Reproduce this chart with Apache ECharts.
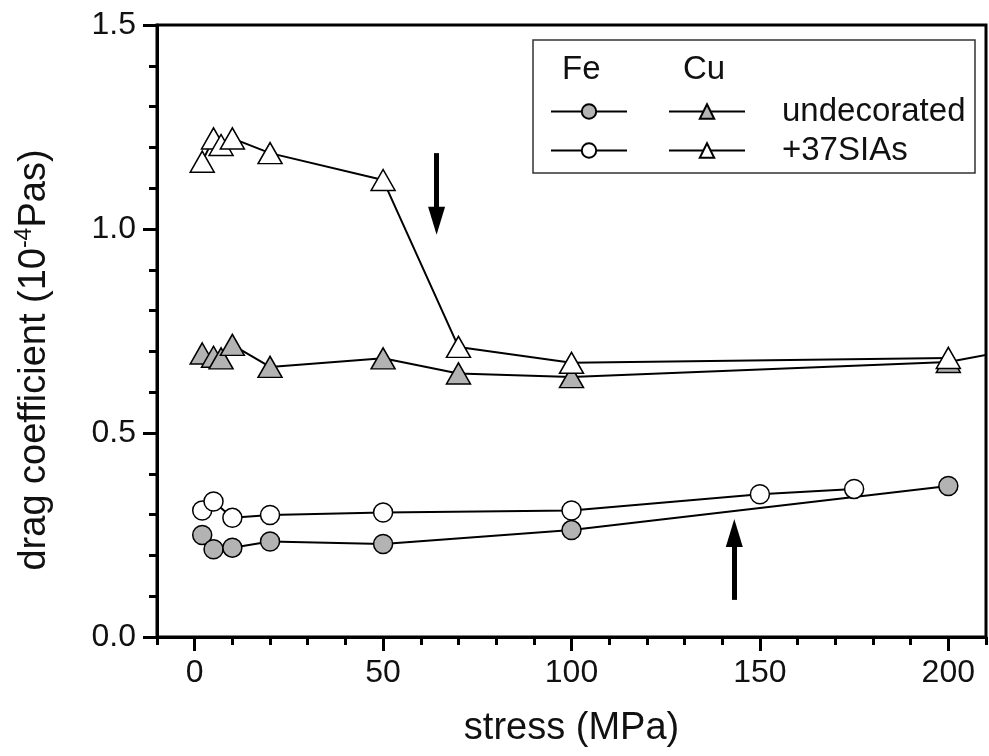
<!DOCTYPE html>
<html>
<head>
<meta charset="utf-8">
<title>drag coefficient vs stress</title>
<script src="https://cdn.jsdelivr.net/npm/echarts@6.0.0/dist/echarts.min.js"></script>
<style>
  html, body { margin: 0; padding: 0; background: #fff; }
  #main { width: 989px; height: 756px; }
</style>
</head>
<body>
<div id="main"></div>
<script>
// Fe, undecorated (filled circles)
var feUndecStress = [2, 5, 10, 20, 50, 100, 200];
var feUndecDrag   = [0.250, 0.215, 0.219, 0.234, 0.228, 0.262, 0.370];
// Fe, +37SIAs (open circles)
var feSiaStress = [2, 5, 10, 20, 50, 100, 150, 175];
var feSiaDrag   = [0.310, 0.332, 0.292, 0.299, 0.305, 0.310, 0.350, 0.363];
// Cu, undecorated (filled triangles), last point lies past the cropped right edge
var cuUndecStress = [2, 5, 7, 10, 20, 50, 70, 100, 200, 250];
var cuUndecDrag   = [0.695, 0.687, 0.683, 0.716, 0.662, 0.683, 0.646, 0.637, 0.674, 0.760];
// Cu, +37SIAs (open triangles)
var cuSiaStress = [2, 5, 7, 10, 20, 50, 70, 100, 200];
var cuSiaDrag   = [1.165, 1.222, 1.206, 1.222, 1.186, 1.120, 0.711, 0.672, 0.684];

var xMajorTicks = [0, 50, 100, 150, 200];
// arrows: [x, yStart, yEnd]
var arrowDown = [64.2, 1.186, 1.020];
var arrowUp   = [143.2, 0.091, 0.255];

var FONT = 'Liberation Sans, Arial, sans-serif';
var GRAY = '#b3b3b3';

function pairs(xs, ys) {
  return xs.map(function (x, i) { return [x, ys[i]]; });
}

function lineSeries(name, xs, ys, symbol, size, fill, z) {
  return {
    name: name,
    type: 'line',
    xAxisIndex: 0,
    yAxisIndex: 0,
    data: pairs(xs, ys),
    symbol: symbol,
    symbolSize: size,
    showAllSymbol: true,
    clip: true,
    z: z,
    lineStyle: { color: '#000', width: 2 },
    itemStyle: { color: fill, borderColor: '#000', borderWidth: 1.5, opacity: 1 },
    emphasis: { disabled: true }
  };
}

var chart = echarts.init(document.getElementById('main'));

var series = [
  lineSeries('Fe undecorated', feUndecStress, feUndecDrag, 'circle', 19, GRAY, 3),
  lineSeries('Fe +37SIAs', feSiaStress, feSiaDrag, 'circle', 19, '#fff', 4),
  lineSeries('Cu undecorated', cuUndecStress, cuUndecDrag, 'triangle', [24, 21], GRAY, 3),
  lineSeries('Cu +37SIAs', cuSiaStress, cuSiaDrag, 'triangle', [24, 21], '#fff', 4)
];

// the two arrows as markLines
series[0].markLine = {
  silent: true,
  animation: false,
  label: { show: false },
  emphasis: { disabled: true },
  lineStyle: { color: '#000', width: 5, type: 'solid' },
  data: [
    [
      { coord: [arrowDown[0], arrowDown[1]], symbol: 'none' },
      { coord: [arrowDown[0], arrowDown[2]], symbol: 'triangle', symbolSize: [17, 28] }
    ],
    [
      { coord: [arrowUp[0], arrowUp[1]], symbol: 'none' },
      { coord: [arrowUp[0], arrowUp[2]], symbol: 'triangle', symbolSize: [17, 28] }
    ]
  ]
};

var legendBase = {
  orient: 'horizontal',
  left: 550,
  padding: 0,
  itemWidth: 76,
  itemHeight: 18,
  itemGap: 40,
  selectedMode: false,
  textStyle: { fontFamily: FONT, fontSize: 33, color: '#111', padding: [0, 0, 0, 32] },
  formatter: function (name) {
    if (name.indexOf('Fe') === 0) return '';
    return name.replace('Cu ', '');
  }
};

chart.setOption({
  animation: false,
  backgroundColor: '#fff',
  grid: [
    {
      left: 157, right: 3, top: 25, bottom: 119,
      show: true, borderColor: '#000', borderWidth: 3,
      backgroundColor: 'transparent', outerBoundsMode: 'none'
    },
    // same rectangle, only used to draw the long x ticks
    { left: 157, right: 3, top: 25, bottom: 119, outerBoundsMode: 'none' }
  ],
  legend: [
    Object.assign({}, legendBase, { top: 95, data: ['Fe undecorated', 'Cu undecorated'] }),
    Object.assign({}, legendBase, { top: 134, data: ['Fe +37SIAs', 'Cu +37SIAs'] })
  ],
  xAxis: [
    {
      type: 'value', gridIndex: 0,
      min: -10, max: 210, interval: 10,
      name: 'stress (MPa)', nameLocation: 'middle', nameGap: 73,
      nameTextStyle: { fontFamily: FONT, fontSize: 38, color: '#111' },
      axisLine: { show: true, onZero: false, lineStyle: { color: '#000', width: 3 } },
      axisTick: { show: true, inside: false, length: 8, lineStyle: { color: '#000', width: 3 } },
      axisLabel: {
        fontFamily: FONT, fontSize: 32, color: '#111', margin: 20,
        formatter: function (v) { return v % 50 === 0 ? String(v) : ''; }
      },
      splitLine: { show: false }
    },
    {
      type: 'value', gridIndex: 1,
      min: -10, max: 210, interval: 10,
      axisLine: { show: false },
      axisTick: { show: true, inside: false, length: 14, customValues: xMajorTicks, lineStyle: { color: '#000', width: 3 } },
      axisLabel: { show: false },
      splitLine: { show: false }
    }
  ],
  yAxis: [
    {
      type: 'value', gridIndex: 0,
      min: 0, max: 1.5, interval: 0.5,
      name: 'drag coefficient (10{sup|-4}Pas)', nameLocation: 'middle', nameGap: 100,
      nameTextStyle: {
        fontFamily: FONT, fontSize: 38, color: '#111', lineHeight: 44,
        padding: [0, 58, 0, 0],
        rich: { sup: { fontFamily: FONT, fontSize: 23, color: '#111', lineHeight: 30, verticalAlign: 'top' } }
      },
      axisLine: { show: true, onZero: false, lineStyle: { color: '#000', width: 3 } },
      axisTick: { show: true, inside: false, length: 14, lineStyle: { color: '#000', width: 3 } },
      minorTick: { show: true, splitNumber: 5, length: 8, lineStyle: { color: '#000', width: 3 } },
      axisLabel: {
        fontFamily: FONT, fontSize: 32, color: '#111', margin: 21,
        formatter: function (v) { return v.toFixed(1); }
      },
      splitLine: { show: false }
    },
    {
      type: 'value', gridIndex: 1, min: 0, max: 1.5, show: false
    }
  ],
  graphic: [
    {
      type: 'rect', z: 0,
      shape: { x: 533, y: 40, width: 442, height: 133 },
      style: { fill: '#fff', stroke: '#333', lineWidth: 1.5 }
    },
    {
      type: 'text', z: 1, left: 562, top: 53,
      style: { text: 'Fe', fontFamily: FONT, fontSize: 33, fill: '#111' }
    },
    {
      type: 'text', z: 1, left: 683, top: 53,
      style: { text: 'Cu', fontFamily: FONT, fontSize: 33, fill: '#111' }
    }
  ],
  series: series
});
</script>
</body>
</html>
